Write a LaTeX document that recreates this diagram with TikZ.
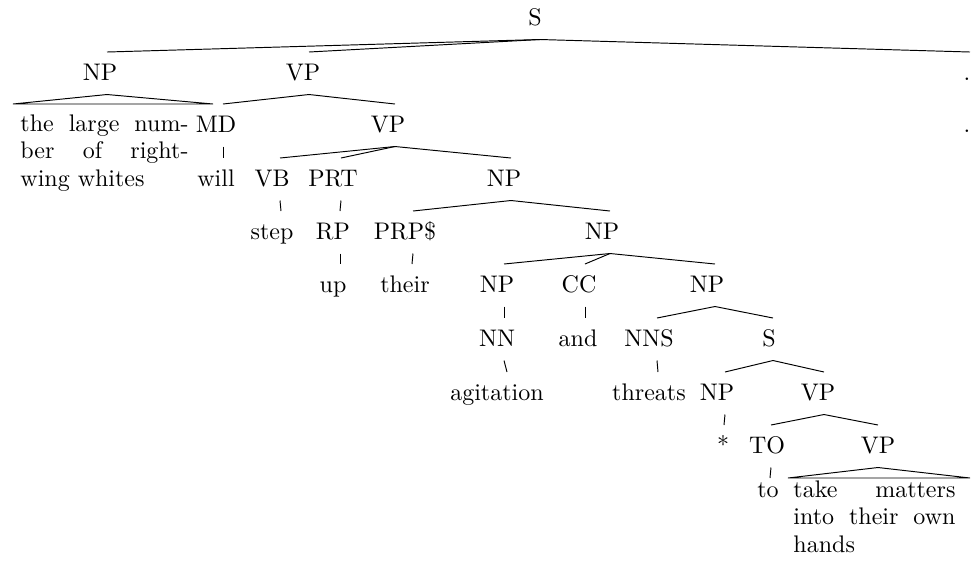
\documentclass[tikz,border=0pt]{standalone}
% One tree node: name, text x, baseline y, connector x, label.
% (name-t) is where the incoming branch ends, (name-a) where outgoing branches start.
\newcommand\treenode[5]{%
  \node[lbl] (#1) at (#2,#3) {#5};
  \coordinate (#1-t) at (#4,#3-28);
  \coordinate (#1-a) at (#4,#3+14.5);
}
\begin{document}
\begin{tikzpicture}[x=0.41667pt,y=-0.41667pt,
  lbl/.style={inner sep=0pt,anchor=base},
  blk/.style={inner sep=0pt,anchor=base west},
  branch/.style={line width=0.4pt}]
\useasboundingbox (0,0) rectangle (971,568);

% row 0
\treenode{S}{535}{25}{540}{S}
% row 1
\treenode{NPa}{100}{80}{107}{NP}
\treenode{VPa}{303}{80}{309}{VP}
\treenode{dotA}{967}{80}{970}{.}
% row 2
\treenode{MD}{216}{132}{223}{MD}
\treenode{VPb}{388}{132}{395}{VP}
\treenode{dotB}{967}{132}{967}{.}
\node[blk] (blkL) at (20,131) {\vtop{\baselineskip=11.6pt\lineskiplimit=0pt
  \hbox to 70pt{the\hfill large\hfill num-}
  \hbox to 70pt{ber\hfill of\hfill right-}
  \hbox{wing whites}}};
\coordinate (blkL-l) at (13,104);
\coordinate (blkL-r) at (213,104);
% row 3
\treenode{will}{216}{186}{223}{will}
\treenode{VB}{272}{186}{280}{VB}
\treenode{PRT}{333}{186}{341}{PRT}
\treenode{NPb}{504}{186}{511}{NP}
% row 4
\treenode{step}{272}{239}{281}{step}
\treenode{RP}{333}{239}{340}{RP}
\treenode{PRPS}{405}{239}{413}{PRP\$}
\treenode{NPc}{602}{239}{610}{NP}
% row 5
\treenode{up}{333}{292}{340}{up}
\treenode{their}{405}{292}{412}{their}
\treenode{NPd}{497}{292}{504}{NP}
\treenode{CC}{579}{292}{585}{CC}
\treenode{NPe}{707}{292}{715}{NP}
% row 6
\treenode{NN}{497}{346}{504}{NN}
\treenode{and}{578}{346}{585}{and}
\treenode{NNS}{649}{346}{657}{NNS}
\treenode{Sb}{769}{346}{773}{S}
% row 7
\treenode{agit}{497}{400}{507}{agitation}
\treenode{threats}{649}{400}{658}{threats}
\treenode{NPf}{717}{400}{725}{NP}
\treenode{VPc}{818}{400}{824}{VP}
% row 8
\treenode{star}{723}{453}{724}{*}
\treenode{TO}{767}{453}{771}{TO}
\treenode{VPd}{878}{453}{878}{VP}
% row 9
\treenode{to}{768}{497}{770}{to}
\coordinate (to-t) at (770,478);
\node[blk] (blkR) at (793,497) {\vtop{\baselineskip=11.5pt\lineskiplimit=0pt
  \hbox to 67.5pt{take\hfill matters}
  \hbox to 67.5pt{into\hfill their\hfill own}
  \hbox{hands}}};
\coordinate (blkR-l) at (788,478);
\coordinate (blkR-r) at (970,478);

% branches
\draw[branch] (S-a) -- (NPa-t);
\draw[branch] (S-a) -- (VPa-t);
\draw[branch] (S-a) -- (dotA-t);
\draw[branch] (NPa-a) -- (blkL-l) -- (blkL-r) -- cycle;
\draw[branch] (VPa-a) -- (MD-t);
\draw[branch] (VPa-a) -- (VPb-t);
\draw[branch] (MD-a) -- (will-t);
\draw[branch] (VPb-a) -- (VB-t);
\draw[branch] (VPb-a) -- (PRT-t);
\draw[branch] (VPb-a) -- (NPb-t);
\draw[branch] (VB-a) -- (step-t);
\draw[branch] (PRT-a) -- (RP-t);
\draw[branch] (NPb-a) -- (PRPS-t);
\draw[branch] (NPb-a) -- (NPc-t);
\draw[branch] (RP-a) -- (up-t);
\draw[branch] (PRPS-a) -- (their-t);
\draw[branch] (NPc-a) -- (NPd-t);
\draw[branch] (NPc-a) -- (CC-t);
\draw[branch] (NPc-a) -- (NPe-t);
\draw[branch] (NPd-a) -- (NN-t);
\draw[branch] (CC-a) -- (and-t);
\draw[branch] (NPe-a) -- (NNS-t);
\draw[branch] (NPe-a) -- (Sb-t);
\draw[branch] (NN-a) -- (agit-t);
\draw[branch] (NNS-a) -- (threats-t);
\draw[branch] (Sb-a) -- (NPf-t);
\draw[branch] (Sb-a) -- (VPc-t);
\draw[branch] (NPf-a) -- (star-t);
\draw[branch] (VPc-a) -- (TO-t);
\draw[branch] (VPc-a) -- (VPd-t);
\draw[branch] (TO-a) -- (to-t);
\draw[branch] (VPd-a) -- (blkR-l) -- (blkR-r) -- cycle;
\end{tikzpicture}
\end{document}
